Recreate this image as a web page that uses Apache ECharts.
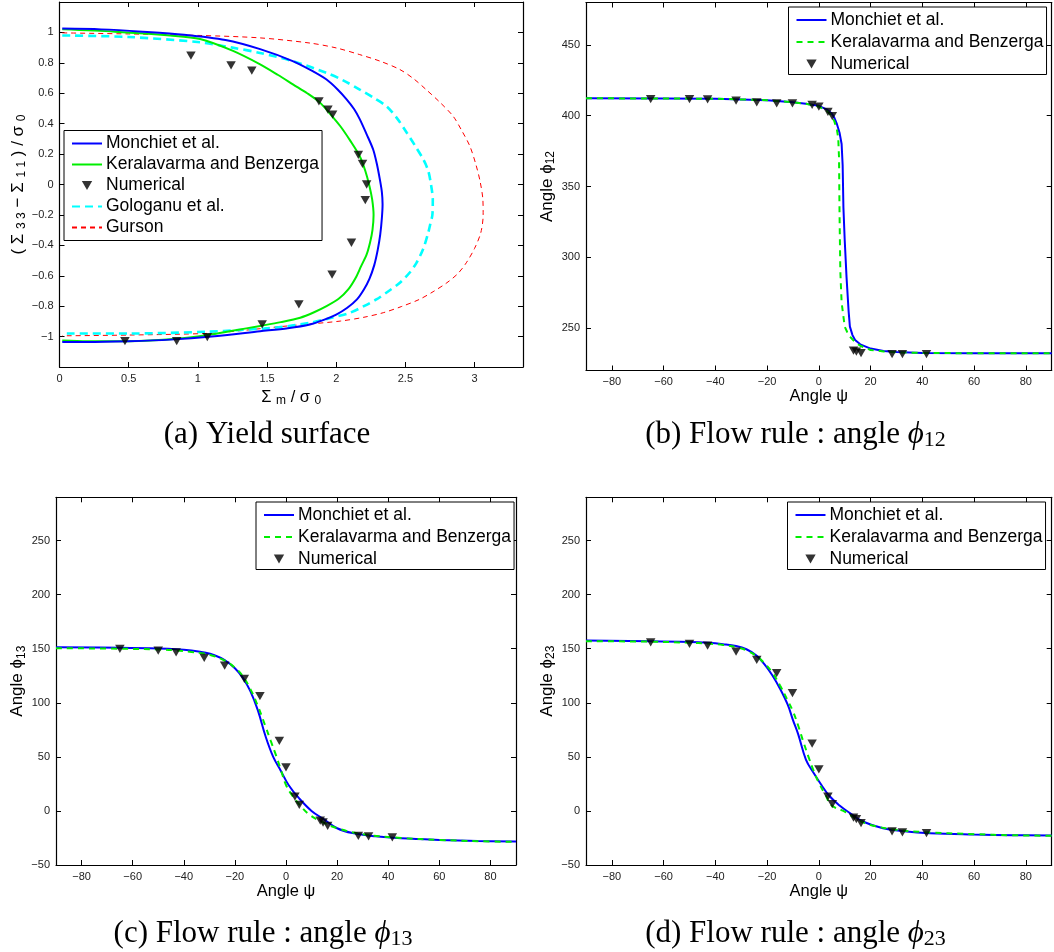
<!DOCTYPE html>
<html>
<head>
<meta charset="utf-8">
<script src="https://cdn.jsdelivr.net/npm/echarts@6/dist/echarts.min.js"></script>
<style>
  html, body { margin: 0; background: #fff; }
  #chart-container { width: 1054px; height: 952px; }
</style>
</head>
<body>
<div id="chart-container"></div>
<script>
// (a) yield surface: x = Sigma_m / sigma_0, y = (S33 - S11) / sigma_0
const aMonchietX = [0.02, 0.3, 0.6, 0.9, 1.2, 1.45, 1.69, 1.82, 1.93, 2.01, 2.075, 2.13, 2.17, 2.22, 2.267, 2.295, 2.316, 2.33, 2.335, 2.33, 2.318, 2.3, 2.275, 2.24, 2.2, 2.15, 2.08, 2.0, 1.91, 1.81, 1.65, 1.45, 1.1, 0.8, 0.5, 0.2, 0.02];
const aMonchietY = [1.025, 1.02, 1.005, 0.985, 0.95, 0.89, 0.81, 0.75, 0.69, 0.625, 0.56, 0.495, 0.43, 0.33, 0.23, 0.13, 0.03, -0.05, -0.13, -0.22, -0.33, -0.43, -0.53, -0.62, -0.69, -0.755, -0.81, -0.855, -0.89, -0.92, -0.945, -0.965, -1.0, -1.02, -1.03, -1.035, -1.035];
const aKeralX = [0.02, 0.4, 0.8, 1.016, 1.25, 1.45, 1.58, 1.69, 1.79, 1.88, 1.96, 2.03, 2.1, 2.17, 2.21, 2.24, 2.26, 2.27, 2.262, 2.245, 2.22, 2.18, 2.14, 2.087, 2.02, 1.93, 1.84, 1.74, 1.6, 1.45, 1.25, 1.07, 0.85, 0.5, 0.2, 0.02];
const aKeralY = [1.02, 1.005, 0.98, 0.957, 0.88, 0.79, 0.72, 0.657, 0.6, 0.54, 0.46, 0.383, 0.29, 0.186, 0.09, -0.01, -0.1, -0.2, -0.3, -0.38, -0.46, -0.537, -0.615, -0.69, -0.75, -0.8, -0.84, -0.876, -0.905, -0.93, -0.962, -0.99, -1.015, -1.03, -1.03, -1.025];
const aGologanuX = [0.02, 0.5, 1.016, 1.25, 1.45, 1.69, 1.93, 2.05, 2.17, 2.27, 2.364, 2.44, 2.51, 2.57, 2.63, 2.665, 2.685, 2.698, 2.695, 2.68, 2.665, 2.63, 2.58, 2.53, 2.46, 2.38, 2.29, 2.2, 2.1, 1.96, 1.81, 1.57, 1.3, 1.07, 0.5, 0.02];
const aGologanuY = [0.98, 0.97, 0.935, 0.9, 0.865, 0.81, 0.734, 0.685, 0.624, 0.57, 0.514, 0.435, 0.34, 0.255, 0.164, 0.09, 0.0, -0.1, -0.2, -0.26, -0.317, -0.42, -0.515, -0.58, -0.646, -0.7, -0.756, -0.8, -0.843, -0.878, -0.909, -0.94, -0.957, -0.968, -0.98, -0.98];
const aGursonX = [0.02, 0.5, 1.016, 1.45, 1.81, 2.0, 2.17, 2.32, 2.46, 2.56, 2.65, 2.75, 2.845, 2.91, 2.966, 3.01, 3.04, 3.06, 3.062, 3.045, 3.0, 2.94, 2.88, 2.8, 2.7, 2.6, 2.47, 2.34, 2.2, 2.03, 1.8, 1.59, 1.3, 1.07, 0.5, 0.02];
const aGursonY = [0.997, 0.99, 0.98, 0.964, 0.93, 0.898, 0.854, 0.81, 0.756, 0.695, 0.624, 0.54, 0.449, 0.35, 0.252, 0.13, 0.02, -0.1, -0.2, -0.317, -0.42, -0.515, -0.585, -0.646, -0.705, -0.756, -0.803, -0.843, -0.873, -0.898, -0.918, -0.935, -0.962, -0.979, -0.99, -0.995];
const aNumX = [0.95, 1.24, 1.39, 1.875, 1.94, 1.974, 2.16, 2.19, 2.22, 2.21, 2.11, 1.97, 1.73, 1.465, 1.068, 0.847, 0.473];
const aNumY = [0.848, 0.784, 0.749, 0.547, 0.493, 0.46, 0.195, 0.136, 0.0, -0.103, -0.383, -0.593, -0.788, -0.92, -1.003, -1.03, -1.03];

// (b)-(d) flow rule angles against psi
const psiNum = [-65, -50, -43, -32, -24, -16.3, -10.2, -2.6, 0, 3.5, 5.2, 13.4, 14.5, 16.3, 28.3, 32.3, 41.6];
const bNumY = [411.8, 411.8, 411.6, 410.6, 409.4, 408.7, 408.7, 407.6, 406.4, 402.8, 399.8, 234, 233.3, 232.2, 231.5, 231.5, 231.5];
const cNumY = [149.8, 148.2, 146.7, 141.5, 134.4, 122.2, 106.2, 64.7, 40.2, 13.2, 5.5, -8.9, -10.7, -13.8, -23, -23.6, -24.5];
const dNumY = [155.9, 154.4, 152.9, 147.3, 139.7, 127.4, 109, 62.3, 38.4, 13.2, 6.2, -6.2, -7.6, -11.3, -19, -19.9, -20.5];

const bMonchietX = [-90, -60, -40, -20, -10, -5, 0, 3, 5, 6, 7, 8, 8.8, 9.2, 9.5, 10, 10.7, 11.5, 12, 13, 14, 16, 20, 25, 30, 40, 60, 90];
const bMonchietY = [412.3, 412.2, 412, 411, 409.5, 408.5, 407, 404.5, 401.5, 398.5, 394, 388, 380, 365, 335, 312, 286, 262, 251, 245, 241.5, 238.5, 235.5, 233.8, 233, 232.4, 232.2, 232.2];
const bKeralX = [-90, -60, -40, -20, -10, -5, 0, 3, 5, 6, 7, 7.5, 7.8, 8.0, 8.3, 8.8, 10, 11, 12, 14, 16, 20, 25, 30, 40, 60, 90];
const bKeralY = [412.3, 412.2, 412, 411, 409.5, 408.5, 406.5, 403.5, 400, 396, 390, 384, 370, 330, 290, 268, 251, 247, 244, 240, 237.5, 234.5, 233.5, 232.8, 232.4, 232.2, 232.2];

const cMonchietX = [-90, -65, -50, -43, -37, -32, -28, -24, -20, -17, -14, -11, -8, -5, -2, 1, 5, 10, 15, 20, 26, 35, 45, 60, 75, 90];
const cMonchietY = [151.3, 150.9, 150.3, 149.6, 148.3, 146.5, 144, 139.5, 132, 123.5, 111, 93, 69, 50, 37, 24, 12, 0, -8, -16, -20.5, -23.5, -25.3, -26.8, -27.8, -28.3];
const cKeralX = [-90, -65, -50, -43, -37, -32, -28, -24, -20, -17, -14, -11, -8, -6, -4, -2, 0, 2.5, 5, 9.3, 14, 20, 30, 45, 60, 75, 90];
const cKeralY = [150.5, 150, 149.3, 148.5, 147, 145.5, 143, 139, 132.5, 125, 113, 97, 78, 65, 52, 38, 24, 14, 6.5, -3.7, -10, -16, -21.5, -25, -26.8, -28, -28.6];

const dMonchietX = [-90, -65, -50, -43, -37, -32, -28, -24, -21, -18, -15, -12, -10, -8, -5, -2, 1, 4, 8, 12, 17, 24.8, 33, 42.9, 60, 75, 90];
const dMonchietY = [157.5, 157, 156.3, 155.5, 154.2, 152.5, 149.5, 143.5, 135.5, 125.5, 113, 98, 84, 71, 47.5, 35, 24, 14, 5, -2, -9.8, -16, -18.8, -20.6, -21.8, -22.4, -22.7];
const dKeralX = [-90, -65, -50, -43, -37, -32, -28, -24, -21, -18, -15, -12, -10, -8, -6, -4, -2, 0, 2.5, 5, 10, 15, 20, 30, 40, 60, 75, 90];
const dKeralY = [157, 156.5, 155.5, 154.7, 153.5, 151.5, 148.5, 143, 136.5, 128, 116, 102, 92, 79, 64, 50, 37, 26, 15, 5, -0.6, -8, -13, -17.5, -19.5, -21.5, -22.5, -23];

const MONCHIET = "Monchiet et al.";
const KERAL = "Keralavarma and Benzerga";
const KERAL_DASH = "Keralavarma and Benzerga\u200b";
const NUMERICAL = "Numerical";
const GOLOGANU = "Gologanu et al.";
const GURSON = "Gurson";

const SANS = "'Liberation Sans', Arial, Helvetica, sans-serif";
const SERIF = "'Liberation Serif', 'DejaVu Serif', serif";
const TRI = "path://M0,0L10,0L5,8.7Z";

function zip(xs, ys) {
  return xs.map((x, i) => [x, ys[i]]);
}

function tickFmt(v) {
  return String(Math.round(v * 100) / 100).replace("-", "\u2212");
}

const grids = [
  { left: 59.5, top: 2, width: 463.5, height: 365 },
  { left: 586, top: 2.5, width: 465.7, height: 368 },
  { left: 56, top: 497.3, width: 460, height: 367.7 },
  { left: 586, top: 497.3, width: 465.7, height: 367.7 },
];

const subRich = {
  s: { fontSize: 12, fontFamily: SANS, padding: [8, 0, 0, 0], verticalAlign: "middle" },
};

// scale settings per panel
const xScales = [
  { min: 0, max: 3.35, interval: 0.5 },
  { min: -90, max: 90, splitNumber: 9 },
  { min: -90, max: 90, splitNumber: 9 },
  { min: -90, max: 90, splitNumber: 9 },
];
const yScales = [
  { min: -1.2, max: 1.2, interval: 0.2 },
  { min: 220, max: 480, splitNumber: 5 },
  { min: -50, max: 290, interval: 50 },
  { min: -50, max: 290, interval: 50 },
];
const xNames = ["Σ {s|m} / σ {s|0}", "Angle ψ", "Angle ψ", "Angle ψ"];
const yNames = [
  "( Σ {s|3 3} − Σ {s|1 1} ) / σ {s|0}",
  "Angle ϕ{s|12}",
  "Angle ϕ{s|13}",
  "Angle ϕ{s|23}",
];
const xNameGaps = [20, 17, 17, 17];
const yNameGaps = [31, 29, 28, 29];

const xAxes = [];
const yAxes = [];
grids.forEach((g, i) => {
  const line = { show: true, onZero: false, lineStyle: { color: "#000", width: 1.2 } };
  const tick = { show: true, inside: true, length: 5, lineStyle: { color: "#000" } };
  xAxes.push({
    type: "value", gridIndex: i, position: "bottom", ...xScales[i],
    axisLine: line, axisTick: tick, splitLine: { show: false },
    axisLabel: {
      color: "#222", fontSize: 11, fontFamily: SANS, margin: 6,
      showMinLabel: i === 0, showMaxLabel: false, formatter: tickFmt,
    },
    name: xNames[i], nameLocation: "middle", nameGap: xNameGaps[i],
    nameTextStyle: { fontSize: 16.5, fontFamily: SANS, color: "#000", rich: subRich },
  });
  xAxes.push({
    type: "value", gridIndex: i, position: "top", ...xScales[i],
    axisLine: line, axisTick: tick, splitLine: { show: false }, axisLabel: { show: false },
  });
  yAxes.push({
    type: "value", gridIndex: i, position: "left", ...yScales[i],
    axisLine: line, axisTick: tick, splitLine: { show: false },
    axisLabel: {
      color: "#222", fontSize: 11, fontFamily: SANS, margin: 6,
      showMinLabel: i >= 2, showMaxLabel: false, formatter: tickFmt,
    },
    name: yNames[i], nameLocation: "middle", nameGap: yNameGaps[i],
    nameTextStyle: { fontSize: 17, fontFamily: SANS, color: "#000", rich: subRich },
  });
  yAxes.push({
    type: "value", gridIndex: i, position: "right", ...yScales[i],
    axisLine: line, axisTick: tick, splitLine: { show: false }, axisLabel: { show: false },
  });
});

function curve(name, gi, xs, ys, color, width, type, smooth) {
  return {
    name, type: "line", xAxisIndex: 2 * gi, yAxisIndex: 2 * gi,
    data: zip(xs, ys), symbol: "none", showSymbol: false, smooth,
    lineStyle: { color, width, type }, itemStyle: { color, opacity: 0 },
  };
}

function marks(gi, ys, xs) {
  return {
    name: NUMERICAL, type: "scatter", xAxisIndex: 2 * gi, yAxisIndex: 2 * gi,
    data: zip(xs || psiNum, ys), symbol: TRI, symbolSize: 9.5, symbolKeepAspect: true,
    itemStyle: { color: "#000" }, z: 5,
  };
}

const series = [
  curve(GURSON, 0, aGursonX, aGursonY, "#ff0000", 1, [5, 4], 0.3),
  curve(GOLOGANU, 0, aGologanuX, aGologanuY, "#00ffff", 2.6, [8, 5], 0.3),
  curve(KERAL, 0, aKeralX, aKeralY, "#00ee00", 2, "solid", 0.3),
  curve(MONCHIET, 0, aMonchietX, aMonchietY, "#0000ff", 2, "solid", 0.3),
  marks(0, aNumY, aNumX),

  curve(MONCHIET, 1, bMonchietX, bMonchietY, "#0000ff", 2, "solid", false),
  curve(KERAL_DASH, 1, bKeralX, bKeralY, "#00ee00", 2, [6, 5], false),
  marks(1, bNumY),

  curve(MONCHIET, 2, cMonchietX, cMonchietY, "#0000ff", 2, "solid", 0.4),
  curve(KERAL_DASH, 2, cKeralX, cKeralY, "#00ee00", 2, [6, 5], 0.4),
  marks(2, cNumY),

  curve(MONCHIET, 3, dMonchietX, dMonchietY, "#0000ff", 2, "solid", 0.4),
  curve(KERAL_DASH, 3, dKeralX, dKeralY, "#00ee00", 2, [6, 5], 0.4),
  marks(3, dNumY),
];

// line entries get a hidden symbol so only the stroke shows in the legend
function legendItems(names) {
  return names.map((n) => (n === NUMERICAL ? { name: n } : { name: n, itemStyle: { opacity: 0 } }));
}

function legendAt(left, top, names, gap, padBottom) {
  return {
    left, top, orient: "vertical", data: legendItems(names),
    itemWidth: 30, itemHeight: 9, itemGap: gap,
    padding: [4, 3, padBottom, 7],
    borderColor: "#000", borderWidth: 1, borderRadius: 0, backgroundColor: "#fff",
    selectedMode: false,
    textStyle: { fontFamily: SANS, fontSize: 17.5, color: "#000", padding: [0, 0, 0, -1] },
  };
}

function caption(x, y, text) {
  return {
    type: "text", x, y, z: 10,
    style: {
      text, align: "center", verticalAlign: "middle",
      fontFamily: SERIF, fontSize: 31, fill: "#000",
      rich: {
        i: { fontFamily: SERIF, fontSize: 31, fontStyle: "italic" },
        s: { fontFamily: SERIF, fontSize: 22, padding: [11, 0, 0, 0] },
      },
    },
  };
}

const dom = document.getElementById("chart-container");
const myChart = echarts.init(dom, null, { renderer: "canvas" });

const option = {
  animation: false,
  backgroundColor: "#fff",
  grid: grids.map((g) => ({ ...g, containLabel: false, outerBoundsMode: "none" })),
  xAxis: xAxes,
  yAxis: yAxes,
  legend: [
    legendAt(64, 130.5, [MONCHIET, KERAL, NUMERICAL, GOLOGANU, GURSON], 3, 4),
    legendAt(788.5, 7, [MONCHIET, KERAL_DASH, NUMERICAL], 4, 1.5),
    legendAt(256, 502, [MONCHIET, KERAL_DASH, NUMERICAL], 4, 1.5),
    legendAt(787.5, 502, [MONCHIET, KERAL_DASH, NUMERICAL], 4, 1.5),
  ],
  tooltip: { show: false },
  series,
  graphic: [
    caption(267, 435, "(a) Yield surface"),
    caption(795.5, 435, "(b) Flow rule : angle {i|ϕ}{s|12}"),
    caption(263, 934, "(c) Flow rule : angle {i|ϕ}{s|13}"),
    caption(795.5, 934, "(d) Flow rule : angle {i|ϕ}{s|23}"),
  ],
};

myChart.setOption(option);
window.addEventListener("resize", myChart.resize);
</script>
</body>
</html>
